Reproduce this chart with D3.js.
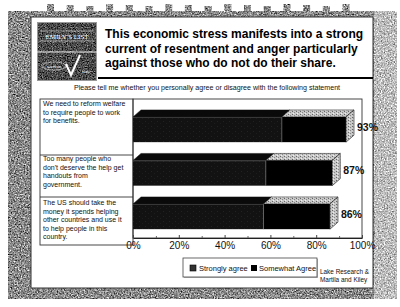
<!DOCTYPE html>
<html><head><meta charset="utf-8">
<script src="https://cdn.jsdelivr.net/npm/d3@7"></script>
<style>html,body{margin:0;padding:0;background:#fff;}svg{display:block;font-family:"Liberation Sans",Arial,sans-serif;}</style>
</head><body>
<script>
const titleLines = ["This economic stress manifests into a strong","current of resentment and anger particularly","against those who do not do their share."];
const subtitle = "Please tell me whether you personally agree or disagree with the following statement";
const categories = ["welfare","handouts","foreign"];
const categoryLines = [
  ["We need to reform welfare","to require people to work","for benefits."],
  ["Too many people who","don't deserve the help get","handouts from","government."],
  ["The US should take the","money it spends helping","other countries and use it","to help people in this","country."]
];
const stronglyAgree = [65, 58, 57];
const somewhatAgree = [28, 29, 29];
const seriesNames = ["Strongly agree","Somewhat Agree"];
const xTicks = [0,20,40,60,80,100];
const xMinorTicks = [10,30,50,70,90];
const sourceLines = ["Lake Research &","Martila and Kiley"];

(function(){
const W=400,H=307;
const svg=d3.select("body").append("svg").attr("width",W).attr("height",H);
const defs=svg.append("defs");
function noiseFilter(id,slope,intercept,freq,seed){
  const f=defs.append("filter").attr("id",id).attr("x",0).attr("y",0).attr("width",1).attr("height",1).attr("color-interpolation-filters","sRGB");
  f.append("feTurbulence").attr("type","fractalNoise").attr("baseFrequency",freq).attr("numOctaves",2).attr("seed",seed).attr("result","t");
  f.append("feColorMatrix").attr("in","t").attr("type","matrix")
   .attr("values","0.33 0.33 0.33 0 0 0.33 0.33 0.33 0 0 0.33 0.33 0.33 0 0 0 0 0 0 1").attr("result","g");
  const ct=f.append("feComponentTransfer").attr("in","g").attr("result","c");
  ["feFuncR","feFuncG","feFuncB"].forEach(n=>ct.append(n).attr("type","linear").attr("slope",slope).attr("intercept",intercept));
  f.append("feComposite").attr("in","c").attr("in2","SourceGraphic").attr("operator","in");
}
noiseFilter("noiseBand",2.2,-0.55,0.7,4);
noiseFilter("noiseLight",1.8,-0.15,0.7,7);
noiseFilter("noiseLogo",1.8,-0.6,0.8,2);
const pat=defs.append("pattern").attr("id","hatch").attr("width",4).attr("height",3).attr("patternUnits","userSpaceOnUse");
pat.append("rect").attr("width",4).attr("height",3).attr("fill","#c8c8c8");
pat.append("rect").attr("x",0).attr("y",0).attr("width",1).attr("height",1).attr("fill","#666");
pat.append("rect").attr("x",2).attr("y",1).attr("width",1).attr("height",1).attr("fill","#888");
pat.append("rect").attr("x",1).attr("y",2).attr("width",1).attr("height",1).attr("fill","#eee");
const pat2=defs.append("pattern").attr("id","darkspeck").attr("width",6).attr("height",5).attr("patternUnits","userSpaceOnUse");
pat2.append("rect").attr("width",6).attr("height",5).attr("fill","#121212");
pat2.append("rect").attr("x",1).attr("y",1).attr("width",1).attr("height",1).attr("fill","#222");
pat2.append("rect").attr("x",4).attr("y",3).attr("width",1).attr("height",1).attr("fill","#1c1c1c");

svg.append("rect").attr("x",8).attr("y",11).attr("width",389).attr("height",288).attr("fill","#000").attr("filter","url(#noiseBand)");
svg.append("rect").attr("x",374).attr("y",11).attr("width",23).attr("height",288).attr("fill","#000").attr("filter","url(#noiseLight)");
d3.range(50,360,19.7).forEach((xx,i)=>{
  svg.append("rect").attr("x",xx-3).attr("y",4+(i%3)).attr("width",7).attr("height",9).attr("fill","#000").attr("filter","url(#noiseBand)");
});
svg.append("rect").attr("x",31).attr("y",17).attr("width",342).attr("height",271).attr("fill","#fff").attr("stroke","#333").attr("stroke-width",1);

const lg=svg.append("g");
lg.append("rect").attr("x",37).attr("y",22).attr("width",60).attr("height",59).attr("fill","#000").attr("filter","url(#noiseLogo)");
lg.append("rect").attr("x",37.5).attr("y",22.5).attr("width",59).attr("height",58).attr("fill","none").attr("stroke","#999");
lg.append("line").attr("x1",37).attr("x2",97).attr("y1",52).attr("y2",52).attr("stroke","#eee").attr("stroke-width",1.2);
lg.append("line").attr("x1",40).attr("x2",94).attr("y1",31).attr("y2",31).attr("stroke","#ddd").attr("stroke-width",0.6);
lg.append("line").attr("x1",40).attr("x2",94).attr("y1",41).attr("y2",41).attr("stroke","#ddd").attr("stroke-width",0.6);
lg.append("text").attr("x",67).attr("y",38.5).attr("text-anchor","middle").attr("font-family","Liberation Serif,serif").attr("font-size",7).attr("fill","#fff").text("EMILY'S LIST");
lg.append("ellipse").attr("cx",54).attr("cy",66).attr("rx",12).attr("ry",4).attr("fill","none").attr("stroke","#eee").attr("stroke-width",0.6);
lg.append("text").attr("x",54).attr("y",68).attr("text-anchor","middle").attr("font-family","Liberation Serif,serif").attr("font-size",5).attr("fill","#fff").text("women");
lg.append("path").attr("d","M66,64 L71,75 L80,55").attr("fill","none").attr("stroke","#fff").attr("stroke-width",2);
lg.append("text").attr("x",86).attr("y",73).attr("text-anchor","middle").attr("font-family","Liberation Serif,serif").attr("font-size",5).attr("fill","#fff").text("vote");

const tg=svg.append("g").attr("transform","translate(105,0) scale(0.91,1)");
const tt=tg.append("text").attr("font-weight","bold").attr("font-size",13.2).attr("fill","#000");
titleLines.forEach((t,i)=>tt.append("tspan").attr("x",0).attr("y",38+i*14.6).text(t));
svg.append("line").attr("x1",98).attr("x2",373).attr("y1",78).attr("y2",78).attr("stroke","#000").attr("stroke-width",2);
svg.append("text").attr("x",207).attr("y",89.5).attr("text-anchor","middle").attr("font-size",7.1).attr("fill","#111").text(subtitle);

const pLeft=133,pRight=362,pTop=99,pBottom=238;
const x=d3.scaleLinear().domain([0,100]).range([pLeft,pRight]);
const y=d3.scaleBand().domain(categories).range([pTop,pBottom]).paddingInner(0.42).paddingOuter(0.3075).align(0.67);
const dx=8,dy=7,bh=y.bandwidth();

svg.append("rect").attr("x",40).attr("y",pTop).attr("width",pLeft-40).attr("height",245-pTop).attr("fill","none").attr("stroke","#333").attr("stroke-width",0.9);
[155,197].forEach(v=>svg.append("line").attr("x1",40).attr("x2",pLeft).attr("y1",v).attr("y2",v).attr("stroke","#333").attr("stroke-width",0.9));
const labelStarts=[106,161,205];
categoryLines.forEach((lines,i)=>{
  const t=svg.append("text").attr("font-size",7).attr("fill","#111");
  lines.forEach((l,j)=>t.append("tspan").attr("x",43).attr("y",labelStarts[i]+j*8.6).text(l));
});
svg.append("rect").attr("x",pLeft).attr("y",pTop).attr("width",pRight-pLeft).attr("height",pBottom-pTop).attr("fill","none").attr("stroke","#333").attr("stroke-width",0.9);

const ax=svg.append("g").attr("transform",`translate(0,${pBottom})`)
 .call(d3.axisBottom(x).tickValues(xTicks).tickFormat(d=>d+"%").tickSizeInner(-3).tickSizeOuter(0).tickPadding(4));
ax.select(".domain").attr("stroke","#222");
ax.selectAll(".tick line").attr("stroke","#444");
ax.selectAll("text").attr("font-size",10).attr("fill","#111").attr("font-family","Liberation Sans,Arial,sans-serif");
const ax2=svg.append("g").attr("transform",`translate(0,${pBottom})`)
 .call(d3.axisBottom(x).tickValues(xMinorTicks).tickFormat("").tickSizeInner(-2).tickSizeOuter(0));
ax2.select(".domain").remove();
ax2.selectAll(".tick line").attr("stroke","#666");

const styles=[{front:"url(#darkspeck)",topf:"#0a0a0a",side:"#222"},{front:"#000",topf:"url(#hatch)",side:"url(#hatch)"}];
categories.forEach((c,i)=>{
  const y0=y(c);
  const segs=[[0,stronglyAgree[i]],[stronglyAgree[i],stronglyAgree[i]+somewhatAgree[i]]];
  const g=svg.append("g");
  segs.forEach((s,k)=>{
    const x0=x(s[0]),x1=x(s[1]);
    g.append("path").attr("d",`M${x0},${y0}L${x0+dx},${y0-dy}L${x1+dx},${y0-dy}L${x1},${y0}Z`).attr("fill",styles[k].topf).attr("stroke","#111").attr("stroke-width",0.5);
    g.append("rect").attr("x",x0).attr("y",y0).attr("width",x1-x0).attr("height",bh).attr("fill",styles[k].front);
    if(k===1){
      g.append("path").attr("d",`M${x1},${y0}L${x1+dx},${y0-dy}L${x1+dx},${y0-dy+bh}L${x1},${y0+bh}Z`).attr("fill",styles[k].side).attr("stroke","#111").attr("stroke-width",0.6);
    }
  });
  const xb=x(stronglyAgree[i]);
  g.append("line").attr("x1",xb).attr("x2",xb).attr("y1",y0).attr("y2",y0+bh).attr("stroke","#777").attr("stroke-width",0.6);
  g.append("line").attr("x1",pLeft).attr("x2",xb).attr("y1",y0+0.5).attr("y2",y0+0.5).attr("stroke","#555").attr("stroke-width",0.6);
  const tot=stronglyAgree[i]+somewhatAgree[i];
  svg.append("text").attr("x",x(tot)+dx+3).attr("y",y0+bh/2+1).attr("font-weight","bold").attr("font-size",10.5).attr("fill","#111").text(tot+"%");
});

const lgd=svg.append("g");
lgd.append("rect").attr("x",184).attr("y",259).attr("width",134).attr("height",19).attr("fill","#bbb");
lgd.append("rect").attr("x",183).attr("y",258).attr("width",134).attr("height",19).attr("fill","#fff").attr("stroke","#444").attr("stroke-width",0.8);
lgd.append("rect").attr("x",190).attr("y",265).attr("width",6).attr("height",6).attr("fill","#333").attr("stroke","#000").attr("stroke-width",0.6);
lgd.append("text").attr("x",199).attr("y",271).attr("font-size",7.5).attr("fill","#111").text(seriesNames[0]);
lgd.append("rect").attr("x",251).attr("y",265).attr("width",6).attr("height",6).attr("fill","#000");
lgd.append("text").attr("x",259).attr("y",271).attr("font-size",7.5).attr("fill","#111").text(seriesNames[1]);
sourceLines.forEach((s,i)=>svg.append("text").attr("x",320).attr("y",274+i*8).attr("font-size",6.4).attr("fill","#111").text(s));
})();
</script>
</body></html>
